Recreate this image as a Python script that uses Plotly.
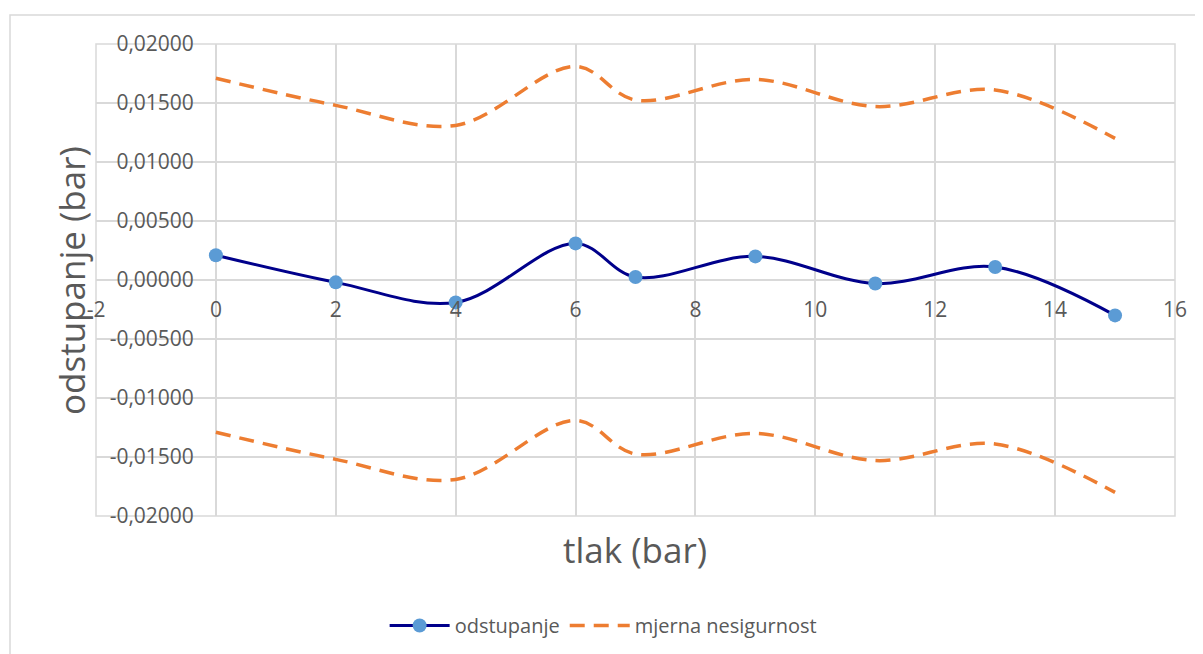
import plotly.graph_objects as go

# ---- data ----
tlak = [0, 2, 4, 6, 7, 9, 11, 13, 15]
odstupanje = [0.0021, -0.0002, -0.0019, 0.0031, 0.00025, 0.0020, -0.0003, 0.0011, -0.0030]
nesigurnost_gornja = [0.0171, 0.0148, 0.0131, 0.0181, 0.01525, 0.0170, 0.0147, 0.0161, 0.0120]
nesigurnost_donja = [-0.0129, -0.0152, -0.0169, -0.0119, -0.01475, -0.0130, -0.0153, -0.0139, -0.0180]

x_tickvals = [-2, 0, 2, 4, 6, 8, 10, 12, 14, 16]
x_ticktext = ["-2", "0", "2", "4", "6", "8", "10", "12", "14", "16"]
y_tickvals = [-0.02, -0.015, -0.01, -0.005, 0.0, 0.005, 0.01, 0.015, 0.02]
y_ticktext = ["-0,02000", "-0,01500", "-0,01000", "-0,00500", "0,00000",
              "0,00500", "0,01000", "0,01500", "0,02000"]

FONT = "Open Sans"
TXT = "#595959"
GRID = "#D9D9D9"
ORANGE = "#ED7D31"

fig = go.Figure()
fig.add_trace(go.Scatter(
    x=tlak, y=odstupanje, name="odstupanje", mode="lines+markers",
    line=dict(color="#00008B", width=3, shape="spline", smoothing=1),
    marker=dict(color="#5B9BD5", size=14),
))
fig.add_trace(go.Scatter(
    x=tlak, y=nesigurnost_gornja, name="mjerna nesigurnost", mode="lines",
    line=dict(color=ORANGE, width=3.5, dash="15px,9px", shape="spline", smoothing=1),
))
fig.add_trace(go.Scatter(
    x=tlak, y=nesigurnost_donja, name="mjerna nesigurnost", mode="lines",
    showlegend=False,
    line=dict(color=ORANGE, width=3.5, dash="15px,9px", shape="spline", smoothing=1),
))

fig.update_layout(
    width=1203, height=654,
    margin=dict(l=88, r=36, t=36, b=146),
    paper_bgcolor="white", plot_bgcolor="white",
    font=dict(family=FONT, color=TXT, size=20),
    xaxis=dict(
        range=[-2, 16], tickvals=x_tickvals, ticktext=x_ticktext,
        anchor="free", position=0.5, showline=False, ticks="",
        ticklabelstandoff=15,
        showgrid=True, gridcolor=GRID, gridwidth=1.5,
        zeroline=True, zerolinecolor=GRID, zerolinewidth=1.5,
        tickfont=dict(size=21, color=TXT),
    ),
    yaxis=dict(
        range=[-0.02, 0.02], tickvals=y_tickvals, ticktext=y_ticktext,
        anchor="free", position=2 / 18, showline=False, ticks="",
        ticklabelstandoff=22,
        showgrid=True, gridcolor=GRID, gridwidth=1.5,
        zeroline=True, zerolinecolor=GRID, zerolinewidth=1.5,
        tickfont=dict(size=21, color=TXT),
    ),
    legend=dict(
        orientation="h", x=0.47, y=-0.232, xanchor="center", yanchor="middle",
        font=dict(size=20, color=TXT), itemwidth=60,
        bgcolor="rgba(0,0,0,0)",
    ),
    showlegend=True,
)

# plot frame
fig.add_shape(type="rect", xref="x domain", yref="y domain", x0=0, y0=0, x1=1, y1=1,
              line=dict(color=GRID, width=1.5), layer="below")
# outer chart border
fig.add_shape(type="rect", xref="paper", yref="paper", x0=-0.0797, y0=-0.5, x1=1.3, y1=1.0614,
              line=dict(color=GRID, width=1.5), layer="below")

fig.add_annotation(text="tlak (bar)", xref="paper", yref="paper", x=0.4995, y=-0.072,
                   xanchor="center", yanchor="middle", showarrow=False,
                   font=dict(size=35, color=TXT, family=FONT))
fig.add_annotation(text="odstupanje (bar)", xref="paper", yref="paper", x=-0.0232, y=0.5,
                   xanchor="center", yanchor="middle", showarrow=False, textangle=-90,
                   font=dict(size=35, color=TXT, family=FONT))

fig.write_html("out.html")
